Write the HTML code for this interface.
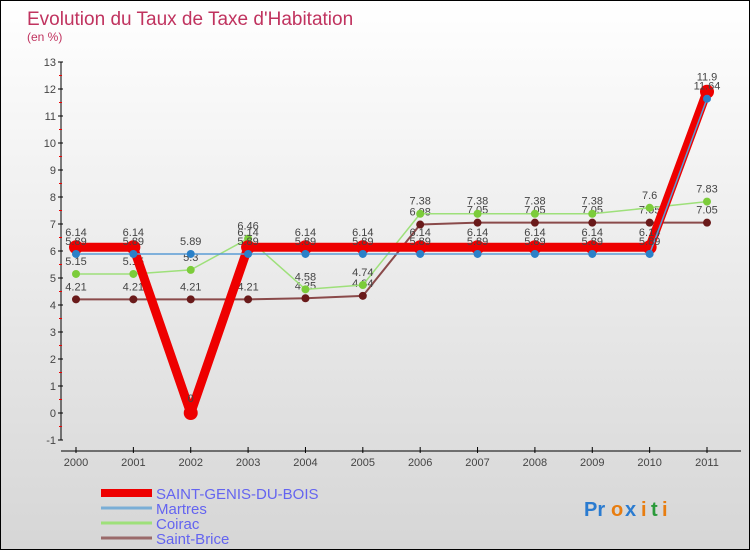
<!DOCTYPE html>
<html><head><meta charset="utf-8"><style>
body{margin:0;}
#wrap{width:748px;height:548px;border:1px solid #000;background:linear-gradient(#fff,#d6d6d6);position:relative;overflow:hidden;font-family:"Liberation Sans",sans-serif;}
svg text{font-family:"Liberation Sans",sans-serif;}
</style></head><body>
<div id="wrap">
<svg id="chart" width="748" height="548">
<text x="26" y="24" font-size="19" fill="#c0335f">Evolution du Taux de Taxe d'Habitation</text>
<text x="26" y="40" font-size="12" fill="#c0335f">(en %)</text>
<g font-size="20" font-weight="bold">
<text x="583" y="515" fill="#2a7bd0">Pr</text><text x="610" y="515" fill="#e87d10">o</text><text x="624" y="515" fill="#2a7bd0">x</text><text x="640" y="515" fill="#e87d10">i</text><text x="650" y="515" fill="#2a9a3a">t</text><text x="661" y="515" fill="#e87d10">i</text>
</g>
</svg>
</div>
<script>
const years=[2000,2001,2002,2003,2004,2005,2006,2007,2008,2009,2010,2011];
const yTicks=[-1,0,1,2,3,4,5,6,7,8,9,10,11,12,13];
const sgdb=[6.14,6.14,0,6.14,6.14,6.14,6.14,6.14,6.14,6.14,6.14,11.9];
const martres=[5.89,5.89,5.89,5.89,5.89,5.89,5.89,5.89,5.89,5.89,5.89,11.64];
const coirac=[5.15,5.15,5.3,6.46,4.58,4.74,7.38,7.38,7.38,7.38,7.6,7.83];
const brice=[4.21,4.21,4.21,4.21,4.25,4.34,6.98,7.05,7.05,7.05,7.05,7.05];
const NS='http://www.w3.org/2000/svg';
const svg=document.getElementById('chart');
const X=i=>75+i*(706-75)/11;
const Y=v=>412-v*27;
function mk(t,a,p){const e=document.createElementNS(NS,t);for(const k in a)e.setAttribute(k,a[k]);(p||svg).appendChild(e);return e;}
// axes
let ax=mk('line',{x1:60,y1:Y(13),x2:60,y2:Y(-1),stroke:'#000','stroke-width':1});


let bx=mk('line',{x1:60,y1:450,x2:740,y2:450,stroke:'#000','stroke-width':1});


yTicks.forEach(v=>{
  mk('line',{x1:57,y1:Y(v),x2:62,y2:Y(v),stroke:'#000'});
  if(v<13){mk('line',{x1:58,y1:Y(v+0.5),x2:61,y2:Y(v+0.5),stroke:'#e00'});}
  const t=mk('text',{x:55,y:Y(v)+4,'font-size':11,fill:'#444','text-anchor':'end'});t.textContent=v;
  
  
});
years.forEach((yr,i)=>{
  mk('line',{x1:X(i),y1:446,x2:X(i),y2:452,stroke:'#000'});
  const t=mk('text',{x:X(i),y:465,'font-size':11,fill:'#444','text-anchor':'middle'});t.textContent=yr;
  
  
});
function series(data,color,lw,r,dot,name,labelDy){
  const g=mk('g',{});
  
  
  mk('polyline',{points:data.map((v,i)=>X(i)+','+Y(v)).join(' '),fill:'none',stroke:color,'stroke-width':lw,'stroke-linejoin':'round'},g);
  data.forEach((v,i)=>{
    const c=mk('circle',{cx:X(i),cy:Y(v),r:r,fill:dot},g);
    
    
    const t=mk('text',{x:X(i),y:Y(v)+labelDy,'font-size':11,fill:'#444','text-anchor':'middle'},g);t.textContent=v;
  });
}
series(brice,'#8a4a4a',2,4,'#6a1a1a','series-saint-brice',-9);
series(coirac,'#9ee07a',1.5,4,'#7ccc3a','series-coirac',-9);
series(sgdb,'#e00',9,7,'#e00','series-saint-genis-du-bois',-11);
series(martres,'#5b9bd5',1.5,4,'#2a80c8','series-martres',-9);
// legend
const leg=[['SAINT-GENIS-DU-BOIS','#e00',8],['Martres','#7aaed6',3],['Coirac','#9ee07a',3],['Saint-Brice','#9a6a6a',3]];
leg.forEach((l,i)=>{
  const y=492+i*15;
  const g=mk('g',{});
  
  
  mk('line',{x1:100,y1:y,x2:151,y2:y,stroke:l[1],'stroke-width':l[2]},g);
  const t=mk('text',{x:155,y:y+6,'font-size':15,fill:'#6464f0'},g);t.textContent=l[0];
});
</script>
</body></html>
